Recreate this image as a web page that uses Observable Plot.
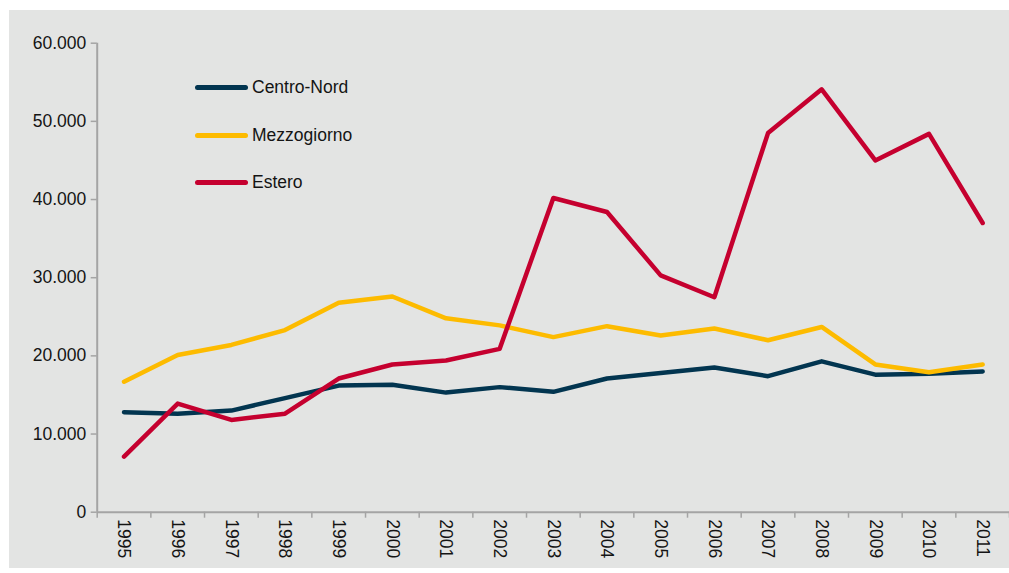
<!DOCTYPE html>
<html><head><meta charset="utf-8">
<script src="https://cdn.jsdelivr.net/npm/d3@7"></script>
<script src="https://cdn.jsdelivr.net/npm/@observablehq/plot@0.6"></script>
<style>
html,body{margin:0;padding:0;background:#fff;}
#wrap{position:relative;width:1009px;height:573px;overflow:hidden;font-family:"Liberation Sans",Arial,sans-serif;color:#141414;}
#panel{position:absolute;left:9px;top:10px;width:1000px;height:558px;background:#e3e4e3;}
#chart{position:absolute;left:0;top:0;}
.item{position:absolute;left:195px;height:20px;display:flex;align-items:center;font-size:17.5px;white-space:nowrap;}
.swatch{display:inline-block;width:53px;height:5px;border-radius:2.5px;margin-right:4px;}
</style></head>
<body>
<div id="wrap"><div id="panel"></div><div id="chart"></div></div>
<script>
const years = [1995,1996,1997,1998,1999,2000,2001,2002,2003,2004,2005,2006,2007,2008,2009,2010,2011];
const centroNord = [12800,12600,13000,14600,16200,16300,15300,16000,15400,17100,17800,18500,17400,19300,17600,17700,18000];
const mezzogiorno = [16700,20100,21400,23300,26800,27600,24800,23900,22400,23800,22600,23500,22000,23700,18900,17900,18900];
const estero = [7100,13900,11800,12600,17100,18900,19400,20900,40200,38400,30300,27500,48500,54100,45000,48400,37000];
const seriesNames = ["Centro-Nord","Mezzogiorno","Estero"];
const seriesValues = [centroNord, mezzogiorno, estero];
const colors = ["#023550","#fdbb00","#c5002f"];
const yTicks = [0,10000,20000,30000,40000,50000,60000];
const axisColor = "#a4a4a4";

const rows = [];
seriesNames.forEach((s,i)=>years.forEach((y,j)=>rows.push({series:s, year:y, value:seriesValues[i][j]})));
const bounds = years.map(y=>y-0.5).concat([years[years.length-1]+0.5]);

const fmt = d3.formatLocale({decimal:",", thousands:".", grouping:[3], currency:["","€"]}).format(",");

const plot = Plot.plot({
  width:1009, height:573,
  marginLeft:96.7, marginRight:0, marginTop:42.7, marginBottom:61.3,
  style:{background:"transparent", fontFamily:"'Liberation Sans', Arial, sans-serif", fontSize:"17.5px", color:"#141414"},
  x:{type:"linear", domain:[bounds[0], bounds[bounds.length-1]]},
  y:{domain:[0,60000]},
  color:{domain:seriesNames, range:colors},
  marks:[
    Plot.ruleY([0], {stroke:axisColor, strokeWidth:2}),
    Plot.ruleX([bounds[0]], {y1:0, y2:60000, stroke:axisColor, strokeWidth:2}),
    Plot.axisY({ticks:yTicks, tickSize:6, tickPadding:5, tickFormat:v=>fmt(v), stroke:axisColor, strokeWidth:1.5, label:null}),
    Plot.axisX({ticks:bounds, tickSize:6, tickFormat:()=>"", stroke:axisColor, strokeWidth:1.5, label:null}),
    Plot.axisX({ticks:years, tickSize:0, tickPadding:7, tickRotate:90, tickFormat:d=>String(d), label:null}),
    Plot.line(rows, {x:"year", y:"value", stroke:"series", z:"series", strokeWidth:4.5, strokeLinecap:"round", strokeLinejoin:"round"})
  ]
});
document.getElementById("chart").appendChild(plot);

const wrap = document.getElementById("wrap");
const legendTops = [87.3, 135, 182.7];
seriesNames.forEach((s,i)=>{
  const d = document.createElement("div");
  d.className = "item";
  d.style.top = (legendTops[i]-10) + "px";
  d.innerHTML = `<span class="swatch" style="background:${colors[i]}"></span><span>${s}</span>`;
  wrap.appendChild(d);
});
</script>
</body></html>
